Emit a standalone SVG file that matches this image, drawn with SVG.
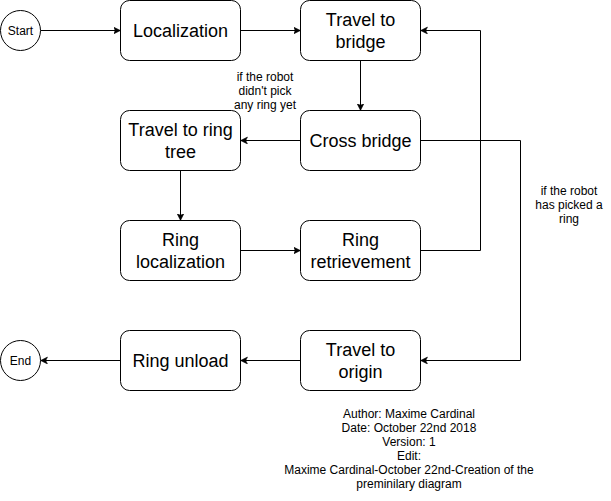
<svg xmlns="http://www.w3.org/2000/svg" width="611" height="501" viewBox="0 0 611 501">
<style>
.box{fill:#fff;stroke:#000;stroke-width:1}
.t18{font-family:"Liberation Sans",Arial,sans-serif;font-size:18px;fill:#000;text-anchor:middle}
.t12{font-family:"Liberation Sans",Arial,sans-serif;font-size:12px;fill:#000;text-anchor:middle}
.edge{fill:none;stroke:#000;stroke-width:1;marker-end:url(#arr)}
</style>
<defs>
<marker id="arr" markerUnits="userSpaceOnUse" markerWidth="8" markerHeight="8" refX="7" refY="3.5" orient="auto">
<path d="M0,0 L7,3.5 L0,7 L1.75,3.5 Z" fill="#000" stroke="#000" stroke-width="0.5"/>
</marker>
</defs>
<rect width="611" height="501" fill="#fff"/>
<g id="connectors">
<path class="edge" d="M40.5,30.5 H120.5"/>
<path class="edge" d="M240.5,30.5 H300.5"/>
<path class="edge" d="M360.5,60.5 V110.5"/>
<path class="edge" d="M300.5,140.5 H240.5"/>
<path class="edge" d="M180.5,170.5 V220.5"/>
<path class="edge" d="M240.5,250.5 H300.5"/>
<path class="edge" d="M420.5,250.5 H480.5 V30.5 H420.5"/>
<path class="edge" d="M420.5,140.5 H520.5 V360.5 H420.5"/>
<path class="edge" d="M300.5,360.5 H240.5"/>
<path class="edge" d="M120.5,360.5 H40.5"/>
<text class="t12" x="265" y="81">if the robot</text>
<text class="t12" x="265" y="95">didn't pick</text>
<text class="t12" x="265" y="109">any ring yet</text>
<text class="t12" x="569" y="195">if the robot</text>
<text class="t12" x="569" y="209">has picked a</text>
<text class="t12" x="569" y="223">ring</text>
</g>
<g id="start">
<circle class="box" cx="20.5" cy="30.5" r="20"/>
<text class="t12" x="20.5" y="34.7">Start</text>
</g>
<g id="localization">
<rect class="box" x="120.5" y="0.5" width="120" height="60" rx="9" ry="9"/>
<text class="t18" x="180.5" y="36.7">Localization</text>
</g>
<g id="travel-to-bridge">
<rect class="box" x="300.5" y="0.5" width="120" height="60" rx="9" ry="9"/>
<text class="t18" x="360.5" y="25.9">Travel to</text>
<text class="t18" x="360.5" y="47.5">bridge</text>
</g>
<g id="cross-bridge">
<rect class="box" x="300.5" y="110.5" width="120" height="60" rx="9" ry="9"/>
<text class="t18" x="360.5" y="146.7">Cross bridge</text>
</g>
<g id="travel-to-ring-tree">
<rect class="box" x="120.5" y="110.5" width="120" height="60" rx="9" ry="9"/>
<text class="t18" x="180.5" y="135.9">Travel to ring</text>
<text class="t18" x="180.5" y="157.5">tree</text>
</g>
<g id="ring-localization">
<rect class="box" x="120.5" y="220.5" width="120" height="60" rx="9" ry="9"/>
<text class="t18" x="180.5" y="245.9">Ring</text>
<text class="t18" x="180.5" y="267.5">localization</text>
</g>
<g id="ring-retrievement">
<rect class="box" x="300.5" y="220.5" width="120" height="60" rx="9" ry="9"/>
<text class="t18" x="360.5" y="245.9">Ring</text>
<text class="t18" x="360.5" y="267.5">retrievement</text>
</g>
<g id="travel-to-origin">
<rect class="box" x="300.5" y="330.5" width="120" height="60" rx="9" ry="9"/>
<text class="t18" x="360.5" y="355.9">Travel to</text>
<text class="t18" x="360.5" y="377.5">origin</text>
</g>
<g id="ring-unload">
<rect class="box" x="120.5" y="330.5" width="120" height="60" rx="9" ry="9"/>
<text class="t18" x="180.5" y="366.7">Ring unload</text>
</g>
<g id="end">
<circle class="box" cx="20.5" cy="360.5" r="20"/>
<text class="t12" x="20.5" y="364.7">End</text>
</g>
<g id="note">
<text class="t12" x="409" y="418">Author: Maxime Cardinal</text>
<text class="t12" x="409" y="432">Date: October 22nd 2018</text>
<text class="t12" x="409" y="446">Version: 1</text>
<text class="t12" x="409" y="460">Edit:</text>
<text class="t12" x="409" y="474">Maxime Cardinal-October 22nd-Creation of the</text>
<text class="t12" x="409" y="488">preminilary diagram</text>
</g>
</svg>
